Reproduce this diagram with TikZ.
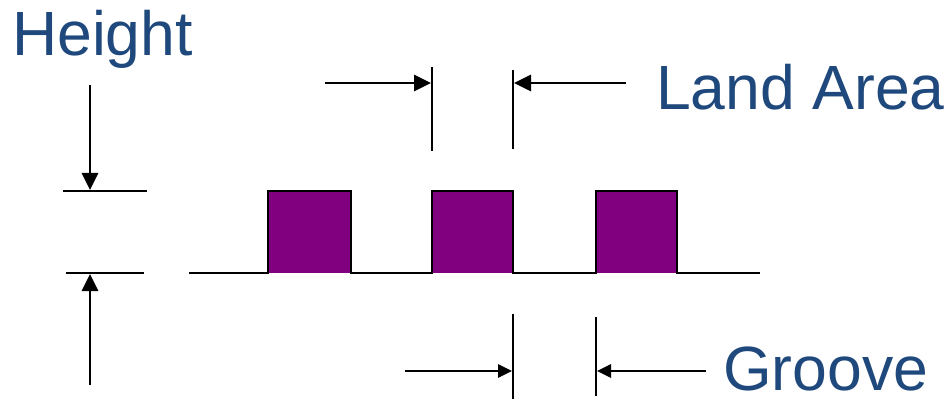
\documentclass[tikz,border=0pt]{standalone}
\usepackage{fontspec}
\setmainfont{Liberation Sans}
\usetikzlibrary{arrows.meta}
\definecolor{lbl}{RGB}{31,73,125}
\definecolor{land}{RGB}{128,0,128}
\tikzset{
  ln/.style={line width=2.8pt, black},
  dimarrow/.style={ln, -{Triangle[length=17pt,width=16pt]}},
  smallarrow/.style={ln, -{Triangle[length=14pt,width=13pt]}},
  lbltext/.style={text=lbl, font=\fontsize{62.5}{63}\selectfont, inner sep=0pt, anchor=base west},
  landbox/.style={fill=land, draw=black, line width=2.4pt}
}
\begin{document}
\begin{tikzpicture}[x=1pt,y=-1pt]
\useasboundingbox (0,0) rectangle (949,403);
% labels
\node[lbltext] (height) at (12,56) {Height};
\node[lbltext] (landarea) at (656,110) {Land Area};
\node[lbltext] (groove) at (723,390) {Groove};
% profile
\coordinate (p0) at (189,273);
\coordinate (p1) at (760,273);
\fill[land] (268,191) rectangle (351,273);
\fill[land] (432,191) rectangle (513,273);
\fill[land] (596,191) rectangle (677,273);
\draw[ln, line join=miter] (p0) -- (268,273) -- (268,191) -- (351,191) -- (351,273)
  -- (432,273) -- (432,191) -- (513,191) -- (513,273)
  -- (596,273) -- (596,191) -- (677,191) -- (677,273) -- (p1);
% height dimension
\coordinate (ht1) at (63,191); \coordinate (ht2) at (147,191);
\coordinate (hb1) at (66,273); \coordinate (hb2) at (144,273);
\draw[ln] (ht1) -- (ht2);
\draw[ln] (hb1) -- (hb2);
\coordinate (hta) at (90,85); \coordinate (htt) at (90,190);
\coordinate (hba) at (90,385); \coordinate (hbt) at (90,274);
\draw[dimarrow] (hta) -- (htt);
\draw[dimarrow] (hba) -- (hbt);
% land area dimension
\coordinate (l1a) at (432,67); \coordinate (l1b) at (432,151);
\coordinate (l2a) at (513,70); \coordinate (l2b) at (513,149);
\draw[ln] (l1a) -- (l1b);
\draw[ln] (l2a) -- (l2b);
\coordinate (la1) at (325,83); \coordinate (la1t) at (431,83);
\coordinate (la2) at (626,83); \coordinate (la2t) at (514,83);
\draw[dimarrow] (la1) -- (la1t);
\draw[dimarrow] (la2) -- (la2t);
% groove dimension
\coordinate (g1a) at (513,314); \coordinate (g1b) at (513,399);
\coordinate (g2a) at (596,317); \coordinate (g2b) at (596,396);
\draw[ln] (g1a) -- (g1b);
\draw[ln] (g2a) -- (g2b);
\coordinate (ga1) at (405,371); \coordinate (ga1t) at (512,371);
\coordinate (ga2) at (706,371); \coordinate (ga2t) at (597,371);
\draw[smallarrow] (ga1) -- (ga1t);
\draw[smallarrow] (ga2) -- (ga2t);
\end{tikzpicture}
\end{document}
